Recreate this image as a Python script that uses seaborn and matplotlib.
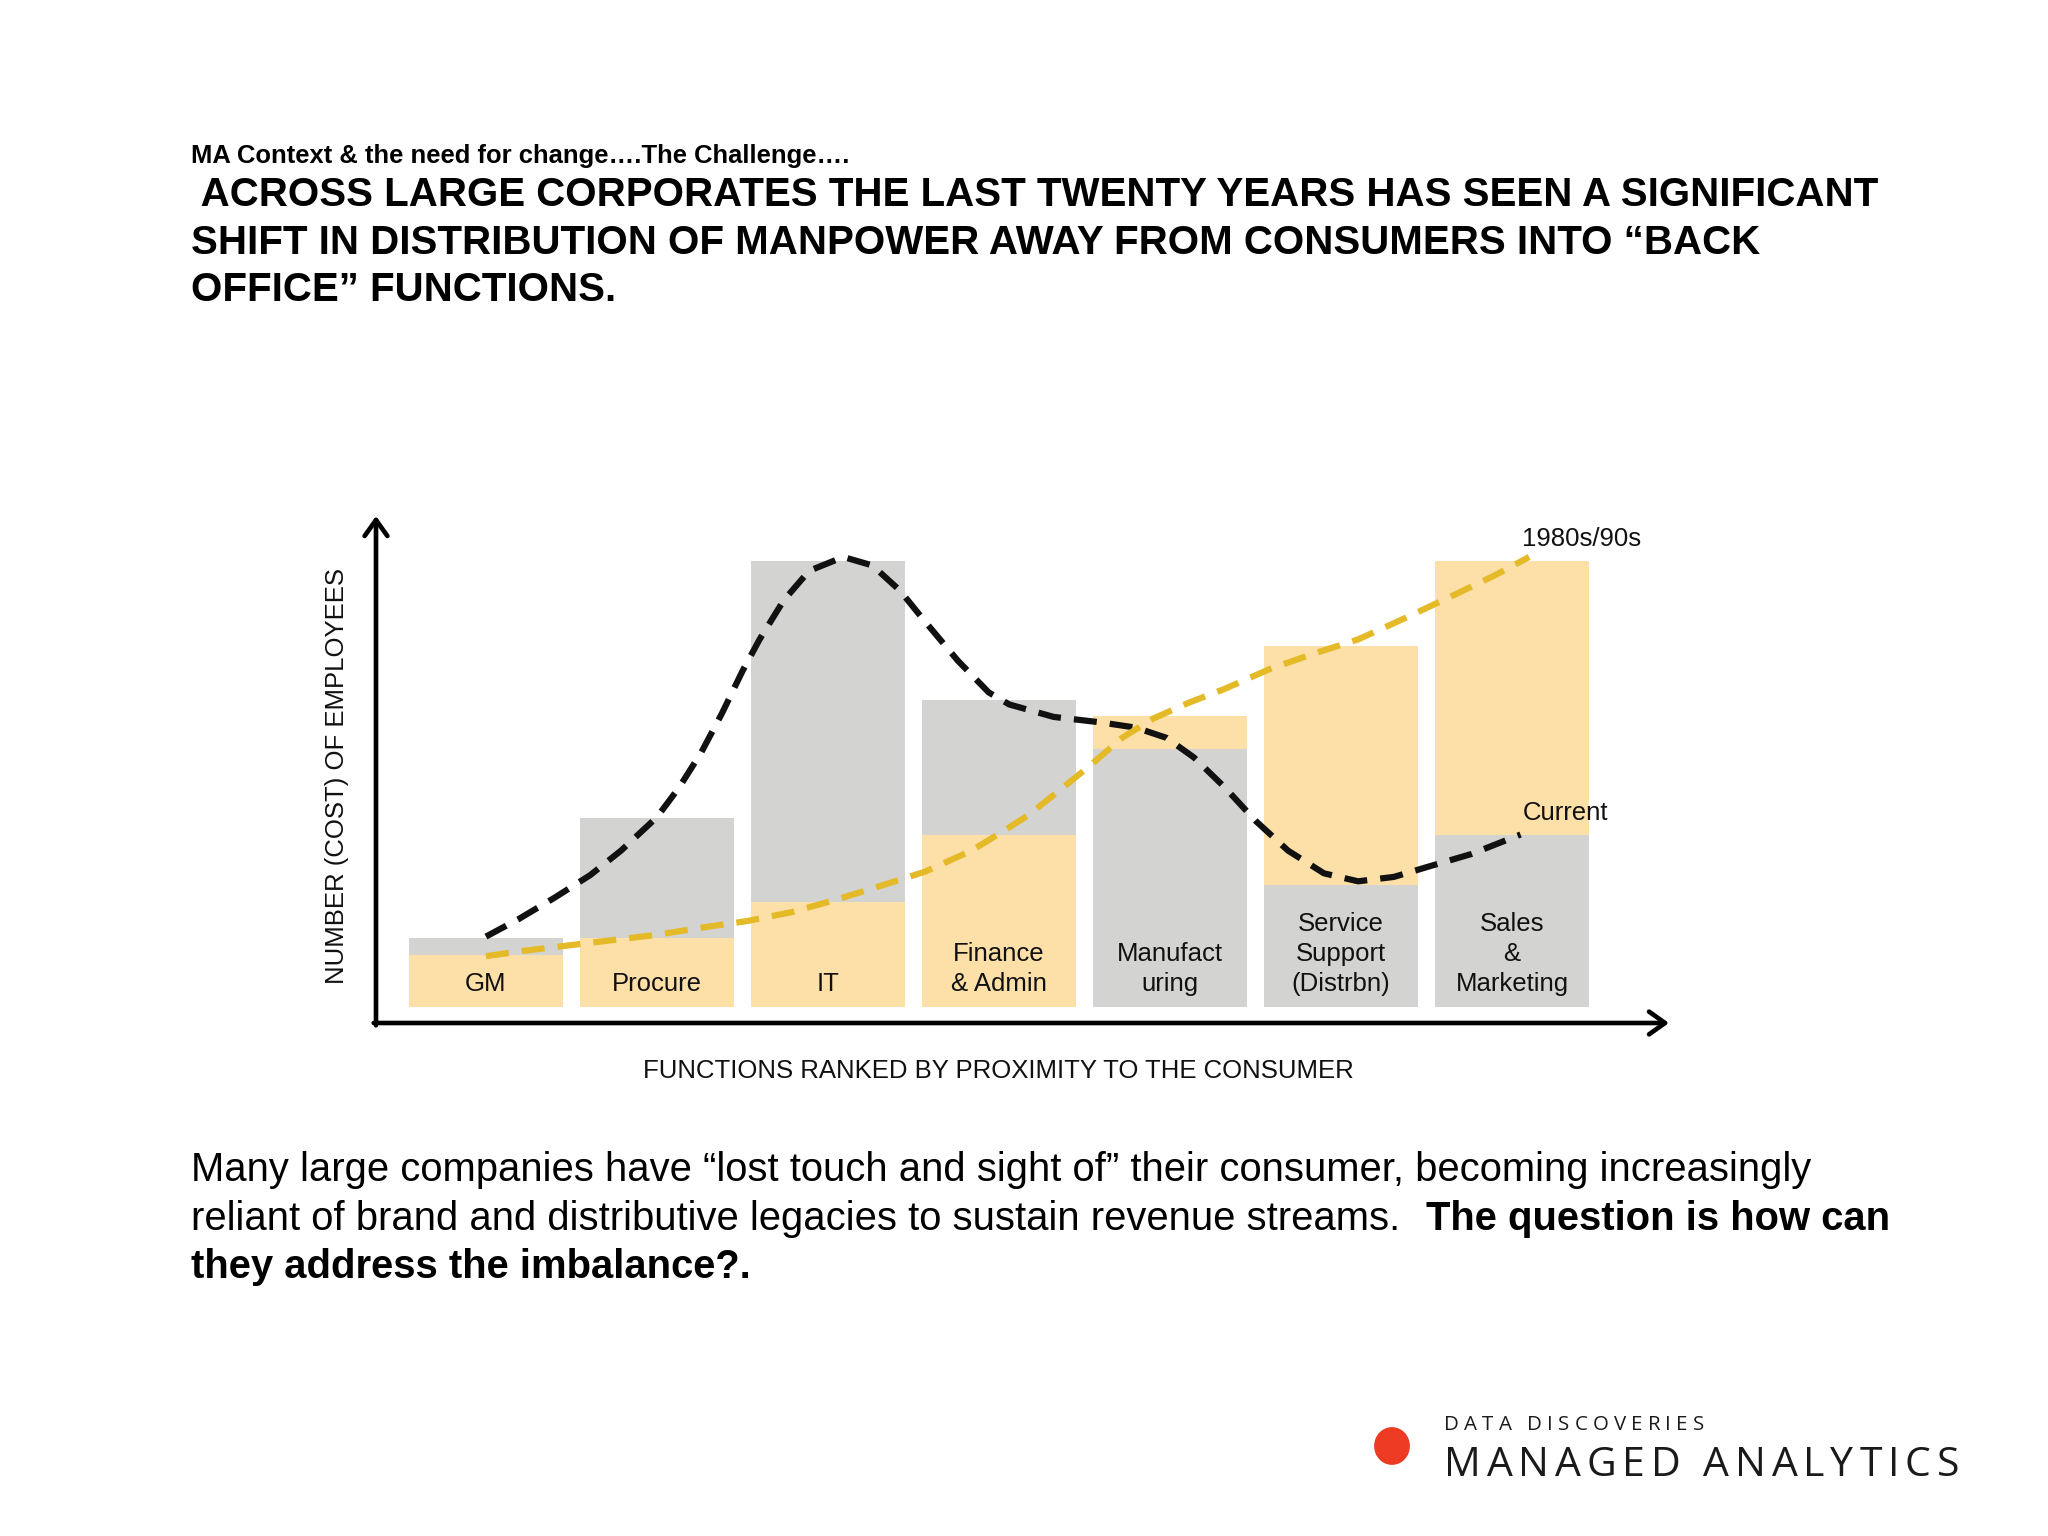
import numpy as np
import pandas as pd
import matplotlib
matplotlib.use("Agg")
import matplotlib.pyplot as plt
import seaborn as sns
from matplotlib.patches import Ellipse

# bar values (relative headcount, IT current = 100)
functions = ["GM", "Procure", "IT", "Finance\n& Admin", "Manufact\nuring",
             "Service\nSupport\n(Distrbn)", "Sales\n&\nMarketing"]
past_values = [11.7, 15.5, 23.5, 38.7, 65.4, 81.0, 100.0]      # 1980s/90s
current_values = [15.5, 42.5, 100.0, 69.0, 57.8, 27.3, 38.7]   # current

# dashed trend curves (x = bar index)
current_x = [0.0, 0.19, 0.40, 0.61, 0.79, 1.0, 1.13, 1.26, 1.38, 1.50, 1.60, 1.74,
             1.89, 2.09, 2.26, 2.42, 2.57, 2.76, 2.94, 3.06, 3.32, 3.59, 3.80, 3.98,
             4.14, 4.32, 4.50, 4.69, 4.90, 5.10, 5.31, 5.52, 5.76, 6.05]
current_y = [15.8, 19.7, 24.5, 29.6, 35.1, 42.6, 49.3, 57.2, 65.9, 75.4, 82.5, 91.2,
             97.9, 101.0, 99.1, 93.5, 86.4, 77.7, 70.6, 67.9, 65.1, 63.9, 62.7, 60.4,
             56.0, 49.3, 41.8, 35.1, 30.0, 28.2, 29.2, 31.6, 34.3, 38.7]
past_x = [0.0, 0.22, 0.48, 0.74, 1.0, 1.26, 1.53, 1.79, 2.05, 2.31, 2.57, 2.84, 3.01,
          3.17, 3.35, 3.53, 3.72, 3.90, 4.11, 4.32, 4.58, 4.84, 5.10, 5.37, 5.63,
          5.89, 6.10]
past_y = [11.4, 12.6, 13.8, 15.0, 16.2, 17.8, 19.3, 21.3, 24.1, 27.2, 30.4, 35.1, 39.1,
          43.0, 48.5, 54.1, 60.4, 64.7, 68.3, 71.4, 75.8, 79.3, 82.5, 87.2, 91.9,
          96.7, 101.0]

GRAY = "#D3D3D1"
PEACH = "#FDDFA8"
GOLD = "#E4BA28"

sns.set_theme(style="white")
plt.rcParams['font.family'] = ['Liberation Sans', 'DejaVu Sans']

W, H = 2048, 1536
fig = plt.figure(figsize=(16, 12), dpi=128)
fig.patch.set_facecolor("white")


def fx(px):
    return px / W


def fy(py):
    return 1 - py / H


ax = fig.add_axes([fx(376), fy(1023), fx(1669) - fx(376), fy(516) - fy(1023)])

df = pd.DataFrame({"function": functions, "past": past_values, "current": current_values})
sns.barplot(data=df, x="function", y="past", color=PEACH, width=0.9, ax=ax,
            saturation=1, order=functions)
sns.barplot(data=df, x="function", y="current", color=GRAY, width=0.9, ax=ax,
            saturation=1, order=functions)
n = len(functions)
for i in range(n):
    p_bar, c_bar = ax.patches[i], ax.patches[n + i]
    p_bar.set_linewidth(0)
    c_bar.set_linewidth(0)
    # the shorter bar sits in front
    if past_values[i] < current_values[i]:
        p_bar.set_zorder(2)
        c_bar.set_zorder(1)
    else:
        p_bar.set_zorder(1)
        c_bar.set_zorder(2)

sns.lineplot(x=current_x, y=current_y, ax=ax, color="#111111", lw=3.5,
             linestyle=(0, (3.7, 2.1)), estimator=None, sort=False, zorder=3)
sns.lineplot(x=past_x, y=past_y, ax=ax, color=GOLD, lw=3.5,
             linestyle=(0, (3.7, 2.1)), estimator=None, sort=False, zorder=4)

for i, lab in enumerate(functions):
    ax.text(i, 2.4, lab, ha="center", va="bottom", fontsize=14.5, color="#111111",
            linespacing=1.33, zorder=5)

ax.text(6.06, 105.0, "1980s/90s", ha="left", va="center", fontsize=14.5, color="#111111")
ax.text(6.06, 43.5, "Current", ha="left", va="center", fontsize=14.5, color="#111111")

ax.set_xlim(-0.643, 6.918)
ax.set_ylim(-3.6, 110.2)
ax.set_xticks([])
ax.set_yticks([])
ax.set_xlabel("")
ax.set_ylabel("")
for s in ax.spines.values():
    s.set_visible(False)
ax.patch.set_alpha(0)

arrow = dict(arrowstyle="->,head_length=0.45,head_width=0.32", lw=2.6, color="black",
             mutation_scale=20, shrinkA=0, shrinkB=0)
ax.annotate("", xy=(0, 1), xytext=(0, -0.0045), xycoords="axes fraction", arrowprops=arrow)
ax.annotate("", xy=(1, 0), xytext=(-0.0018, 0), xycoords="axes fraction", arrowprops=arrow)

fig.text(fx(998), fy(1071), "FUNCTIONS RANKED BY PROXIMITY TO THE CONSUMER",
         ha="center", va="center", fontsize=14.5, color="#111111")
fig.text(fx(337), fy(776), "NUMBER (COST) OF EMPLOYEES", rotation=90,
         ha="center", va="center", fontsize=14.5, color="#111111")

# titles
fig.text(fx(191), fy(156), "MA Context & the need for change….The Challenge….",
         ha="left", va="center", fontsize=14.4, fontweight="bold", color="black")
head = [" ACROSS LARGE CORPORATES THE LAST TWENTY YEARS HAS SEEN A SIGNIFICANT",
        "SHIFT IN DISTRIBUTION OF MANPOWER AWAY FROM CONSUMERS INTO \u201cBACK",
        "OFFICE\u201d FUNCTIONS."]
for line, yy in zip(head, [195, 243, 290]):
    fig.text(fx(191), fy(yy), line, ha="left", va="center", fontsize=22.65,
             fontweight="bold", color="black")

# bottom paragraph
PSIZE = 22.5
fig.text(fx(191), fy(1170),
         "Many large companies have \u201clost touch and sight of\u201d their consumer, becoming increasingly",
         ha="left", va="center", fontsize=PSIZE, color="black")
t2 = fig.text(fx(191), fy(1219),
              "reliant of brand and distributive legacies to sustain revenue streams.",
              ha="left", va="center", fontsize=PSIZE, color="black")
renderer = fig.canvas.get_renderer()
bb = t2.get_window_extent(renderer)
fig.text((bb.x1 + 26) / W, fy(1219), "The question is how can",
         ha="left", va="center", fontsize=PSIZE, fontweight="bold", color="black")
fig.text(fx(191), fy(1267), "they address the imbalance?.",
         ha="left", va="center", fontsize=PSIZE, fontweight="bold", color="black")


# logo, letter-spaced text
def spaced(x0, x1, y, s, size, weight="normal"):
    chars = []
    widths = []
    for ch in s:
        if ch == " ":
            chars.append(None)
            widths.append(0.26 * size * 128 / 72)
        else:
            t = fig.text(0, fy(y), ch, ha="left", va="center", fontsize=size,
                         family=["Open Sans", "DejaVu Sans"], fontweight=weight,
                         color="#1a1a1a")
            chars.append(t)
            widths.append(t.get_window_extent(renderer).width)
    track = (x1 - x0 - sum(widths)) / (len(s) - 1)
    x = x0
    for t, w in zip(chars, widths):
        if t is not None:
            t.set_x(x / W)
        x += w + track


spaced(1444, 1704, 1425, "DATA DISCOVERIES", 11.5)
spaced(1444, 1959, 1466, "MANAGED ANALYTICS", 23)
fig.add_artist(Ellipse((fx(1392), fy(1446)), 34 / W, 36 / H, color="#EE3B24"))

fig.savefig("out.png", dpi=128, facecolor="white")
